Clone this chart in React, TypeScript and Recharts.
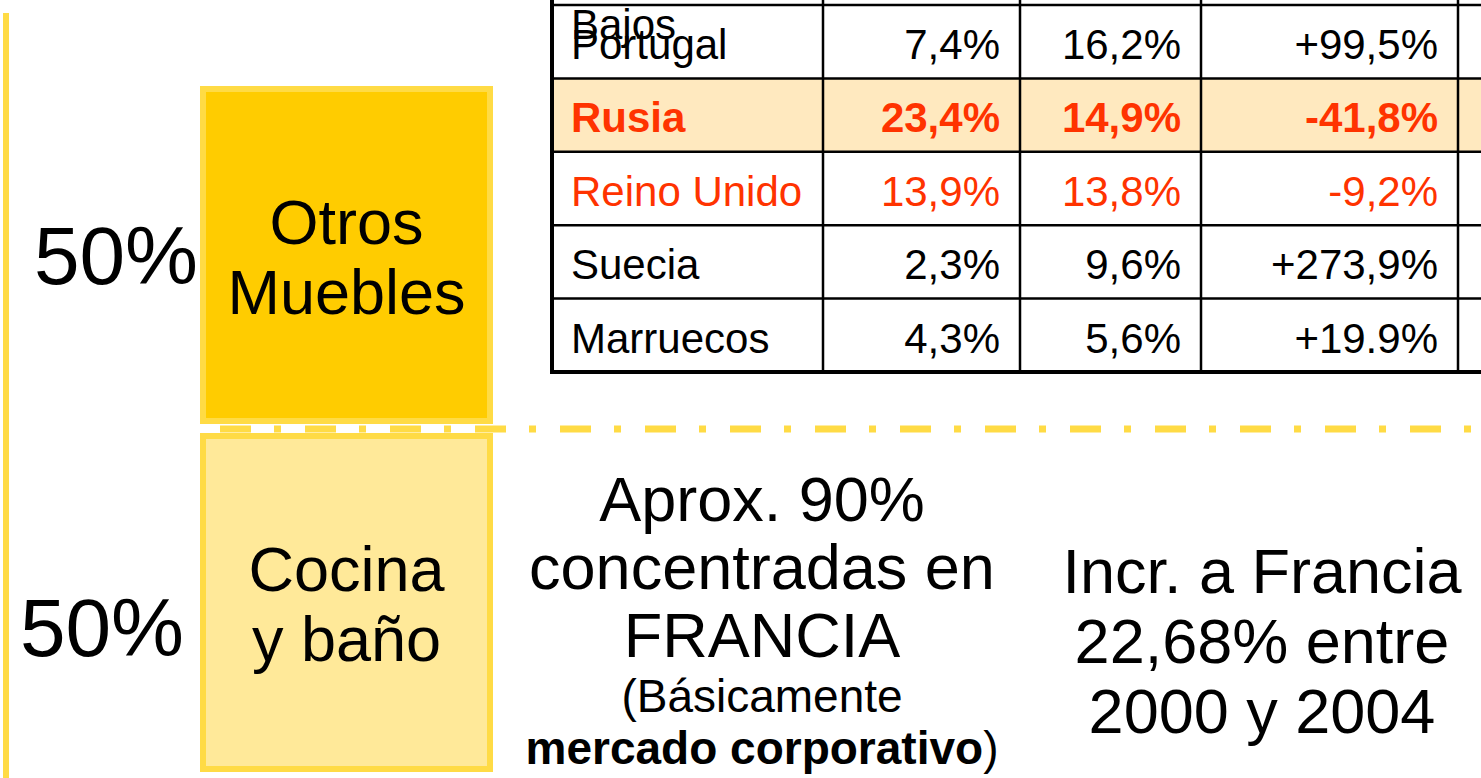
import React from 'react';
import { ComposedChart, Bar, XAxis, YAxis, ReferenceLine, LabelList } from 'recharts';

// Stacked share of the "Muebles" exports
const categories = ['Muebles'];
const segmentKeys = ['cocina', 'otros'];
const segmentLines = [['Cocina', 'y baño'], ['Otros', 'Muebles']];
const shares = [50, 50];

// Destination table (first row and header are cut off in the slide)
const overflowText = 'Bajos';
const countries = ['Portugal', 'Rusia', 'Reino Unido', 'Suecia', 'Marruecos'];
const share2000 = ['7,4%', '23,4%', '13,9%', '2,3%', '4,3%'];
const share2004 = ['16,2%', '14,9%', '13,8%', '9,6%', '5,6%'];
const variation = ['+99,5%', '-41,8%', '-9,2%', '+273,9%', '+19.9%'];

// Notes below the split line
const middleLines = ['Aprox. 90%', 'concentradas en', 'FRANCIA'];
const noteOpen = '(Básicamente';
const noteBold = 'mercado corporativo';
const noteClose = ')';
const rightLines = ['Incr. a Francia', '22,68% entre', '2000 y 2004'];

const W = 1481;
const H = 778;
const FONT = '"Liberation Sans", Arial, Helvetica, sans-serif';
const BORDER = '#FFDB45';
const FILLS = ['#FFE999', '#FFCC00'];
const RED = '#FF3300';
const HIGHLIGHT = '#FFE9BF';

// per segment: [dx, dy] of the "50%" label, and line offsets of the name
const pctOffset = [[-16, 55], [-2, 26]];
const nameOffsets = [[-10, 60], [-14, 56]];

const chartData = categories.map((name) => {
  const row: any = { name };
  segmentKeys.forEach((k, i) => { row[k] = shares[i]; });
  return row;
});

const segmentShape = (seg: number) => (props: any) => {
  const { x, y, width, height } = props;
  const top = seg === 0 ? y + 4 : y;
  const h = seg === 0 ? height - 4 : height - 5;
  return (
    <rect x={x + 3} y={top + 3} width={width - 6} height={h - 6}
      fill={FILLS[seg]} stroke={BORDER} strokeWidth={6} />
  );
};

const box = (props: any) => {
  const vb = props.viewBox && props.viewBox.width !== undefined ? props.viewBox : props;
  return { x: Number(vb.x), y: Number(vb.y), width: Number(vb.width), height: Number(vb.height) };
};

const pctLabel = (seg: number) => (props: any) => {
  const { x, y, height } = box(props);
  return (
    <text x={x + pctOffset[seg][0]} y={y + height / 2 + pctOffset[seg][1]} textAnchor="end"
      fontSize={82} fontFamily={FONT} fill="#000">{`${props.value}%`}</text>
  );
};

const nameLabel = (seg: number) => (props: any) => {
  const { x, y, width, height } = box(props);
  const cx = x + width / 2;
  const cy = y + height / 2;
  return (
    <text textAnchor="middle" fontSize={63} fontFamily={FONT} fill="#000">
      {segmentLines[seg].map((line, i) => (
        <tspan key={i} x={cx} y={cy + nameOffsets[seg][i]}>{line}</tspan>
      ))}
    </text>
  );
};

const splitLine = (props: any) => (
  <line x1={props.x1 + 10} y1={props.y1} x2={W} y2={props.y2}
    stroke={BORDER} strokeWidth={7} strokeDasharray="31 23 7 24" strokeDashoffset={-10} />
);

const colEdges = [552, 823, 1020, 1201, 1458];
const rowTop = 5;
const rowH = 73.4;

const Table = () => {
  const rowsBottom = rowTop + rowH * countries.length;
  const cols = [share2000, share2004, variation];
  return (
    <g fontFamily={FONT} fontSize={42}>
      <rect x={colEdges[0]} y={rowTop + rowH} width={W - colEdges[0]} height={rowH} fill={HIGHLIGHT} />
      {countries.map((_, i) => (
        <line key={`h${i}`} x1={colEdges[0] - 2} x2={W} y1={rowTop + rowH * i} y2={rowTop + rowH * i}
          stroke="#000" strokeWidth={2.5} />
      ))}
      <line x1={colEdges[0] - 2} x2={W} y1={rowsBottom} y2={rowsBottom} stroke="#000" strokeWidth={4} />
      {colEdges.map((cx, i) => (
        <line key={`v${i}`} x1={cx} x2={cx} y1={0} y2={rowsBottom + 2} stroke="#000" strokeWidth={i === 0 ? 4 : 2.5} />
      ))}
      <text x={571} y={39} fill="#000">{overflowText}</text>
      {countries.map((c, i) => {
        const base = rowTop + rowH * i + 54;
        const color = i === 1 || i === 2 ? RED : '#000';
        const weight = i === 1 ? 'bold' : 'normal';
        return (
          <g key={c} fill={color} fontWeight={weight}>
            <text x={571} y={base}>{c}</text>
            {cols.map((col, j) => (
              <text key={j} x={colEdges[j + 2] - 20} y={base} textAnchor="end">{col[i]}</text>
            ))}
          </g>
        );
      })}
    </g>
  );
};

const Notes = () => (
  <g fontFamily={FONT} fill="#000" textAnchor="middle">
    {middleLines.map((t, i) => (
      <text key={t} x={762} y={521 + i * 68} fontSize={63}>{t}</text>
    ))}
    <text x={762} y={712} fontSize={46}>{noteOpen}</text>
    <text x={762} y={764} fontSize={46}>
      <tspan fontWeight="bold">{noteBold}</tspan>
      <tspan>{noteClose}</tspan>
    </text>
    {rightLines.map((t, i) => (
      <text key={t} x={1262} y={593 + i * 70} fontSize={63}>{t}</text>
    ))}
  </g>
);

export default function App() {
  return (
    <div style={{ position: 'absolute', left: 0, top: 0, width: W, height: H, background: '#fff' }}>
      <ComposedChart width={W} height={H} data={chartData}
        margin={{ top: 86, right: W - 493, bottom: 6, left: 200 }} barCategoryGap={0}>
        <XAxis dataKey="name" hide />
        <YAxis hide domain={[0, 100]} />
        {segmentKeys.map((k, i) => (
          <Bar key={k} dataKey={k} stackId="m" shape={segmentShape(i)} isAnimationActive={false}>
            <LabelList dataKey={k} content={pctLabel(i)} />
            <LabelList dataKey={k} content={nameLabel(i)} />
          </Bar>
        ))}
        <ReferenceLine y={shares[0]} shape={splitLine} ifOverflow="visible" />
      </ComposedChart>
      <svg width={W} height={H} style={{ position: 'absolute', left: 0, top: 0, pointerEvents: 'none' }}>
        <line x1={6} x2={6} y1={13} y2={H} stroke={BORDER} strokeWidth={6} />
        <Table />
        <Notes />
      </svg>
    </div>
  );
}
